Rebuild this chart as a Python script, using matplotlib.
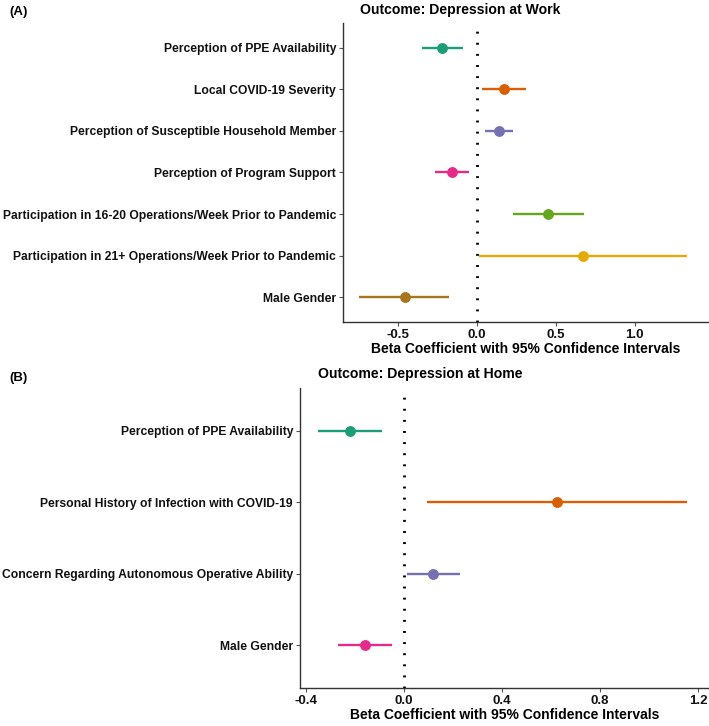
import matplotlib.pyplot as plt

plt.rcParams['font.family'] = ['Liberation Sans', 'DejaVu Sans']
plt.rcParams['font.weight'] = 'bold'

# Panel A: Depression at Work
work_labels = ["Perception of PPE Availability", "Local COVID-19 Severity",
               "Perception of Susceptible Household Member", "Perception of Program Support",
               "Participation in 16-20 Operations/Week Prior to Pandemic",
               "Participation in 21+ Operations/Week Prior to Pandemic", "Male Gender"]
work_beta = [-0.22, 0.17, 0.14, -0.16, 0.45, 0.67, -0.46]
work_low = [-0.35, 0.03, 0.05, -0.27, 0.23, 0.01, -0.75]
work_high = [-0.09, 0.31, 0.23, -0.05, 0.68, 1.33, -0.18]
work_colors = ['#1B9E77', '#D95F02', '#7570B3', '#E7298A', '#66A61E', '#E6AB02', '#A6761D']
work_ticks = [-0.5, 0.0, 0.5, 1.0]

# Panel B: Depression at Home
home_labels = ["Perception of PPE Availability", "Personal History of Infection with COVID-19",
               "Concern Regarding Autonomous Operative Ability", "Male Gender"]
home_beta = [-0.22, 0.623, 0.12, -0.16]
home_low = [-0.35, 0.095, 0.01, -0.27]
home_high = [-0.09, 1.155, 0.23, -0.05]
home_colors = ['#1B9E77', '#D95F02', '#7570B3', '#E7298A']
home_ticks = [-0.4, 0.0, 0.4, 0.8, 1.2]

W, H = 709, 726
fig = plt.figure(figsize=(W / 100, H / 100), dpi=100)


def forest(ax, labels, beta, low, high, colors, ticks, xlim):
    n = len(labels)
    ys = list(range(n, 0, -1))
    for y, b, lo, hi, c in zip(ys, beta, low, high, colors):
        ax.plot([lo, hi], [y, y], color=c, lw=1.7, solid_capstyle='butt', zorder=2)
        ax.plot(b, y, 'o', color=c, ms=6.8, zorder=3)
    ax.axvline(0, color='black', lw=2.0, linestyle=(0, (0.7, 3.3)), zorder=1)
    ax.set_ylim(0.4, n + 0.6)
    ax.set_xlim(*xlim)
    ax.set_yticks(ys)
    ax.set_yticklabels(labels, fontsize=8.75, fontweight='bold', color='#111111')
    ax.set_xticks(ticks)
    ax.set_xticklabels([f"{t:.1f}" for t in ticks], fontsize=9.5, fontweight='bold',
                       color='#111111')
    for s in ['top', 'right']:
        ax.spines[s].set_visible(False)
    for s in ['left', 'bottom']:
        ax.spines[s].set_color('#333333')
        ax.spines[s].set_linewidth(1.0)
    ax.tick_params(length=3, color='#555555', pad=2)
    ax.set_xlabel('Beta Coefficient with 95% Confidence Intervals', fontsize=10,
                  fontweight='bold', labelpad=1)


axA = fig.add_axes([343 / W, 1 - 322 / H, 366 / W, 299 / H])
forest(axA, work_labels, work_beta, work_low, work_high, work_colors, work_ticks, (-0.85, 1.47))

axB = fig.add_axes([300 / W, 1 - 688 / H, 409 / W, 300 / H])
forest(axB, home_labels, home_beta, home_low, home_high, home_colors, home_ticks, (-0.425, 1.245))

fig.text(360 / W, 1 - 10 / H, 'Outcome: Depression at Work', fontsize=10.1,
         fontweight='bold', va='center', ha='left')
fig.text(318 / W, 1 - 374 / H, 'Outcome: Depression at Home', fontsize=10.1,
         fontweight='bold', va='center', ha='left')
fig.text(9 / W, 1 - 12 / H, '(A)', fontsize=9.5, fontweight='bold', va='center', ha='left')
fig.text(9 / W, 1 - 378 / H, '(B)', fontsize=9.5, fontweight='bold', va='center', ha='left')

fig.savefig('out.png', dpi=100, facecolor='white')
